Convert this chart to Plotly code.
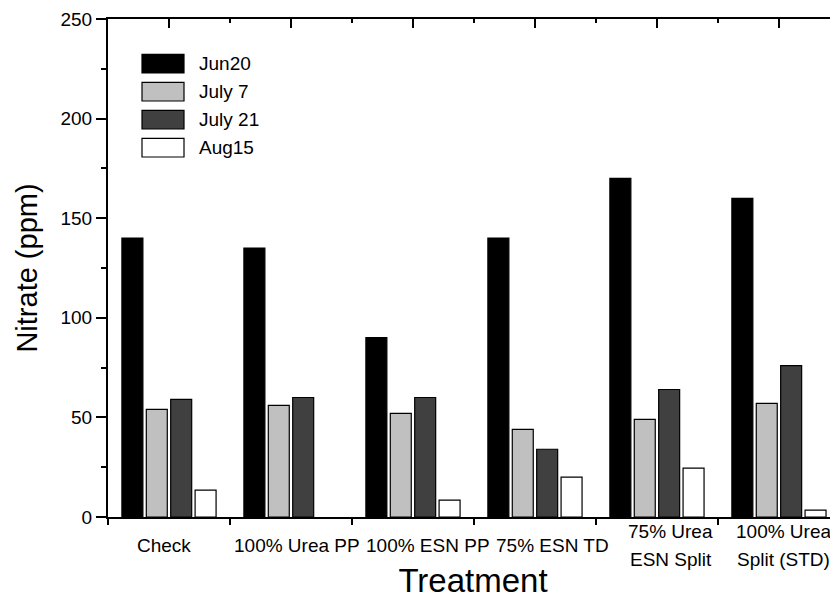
import plotly.graph_objects as go

categories = ["Check", "100% Urea PP", "100% ESN PP", "75% ESN TD",
              "75% Urea<br>ESN Split", "100% Urea<br>Split (STD)"]
series_names = ["Jun20", "July 7", "July 21", "Aug15"]
jun20 = [140, 135, 90, 140, 170, 160]
july7 = [54, 56, 52, 44, 49, 57]
july21 = [59, 60, 60, 34, 64, 76]
aug15 = [13.5, None, 8.5, 20, 24.5, 3.5]
series_values = [jun20, july7, july21, aug15]
y_ticks = [0, 50, 100, 150, 200, 250]

colors = ["#000000", "#c0c0c0", "#404040", "#ffffff"]
label_shift = [-5, 6, 15, 18, 14, 5]

FONT = "Liberation Sans, Arial, sans-serif"

fig = go.Figure()
for name, vals, col in zip(series_names, series_values, colors):
    fig.add_trace(go.Bar(
        x=categories, y=vals, name=name,
        marker=dict(color=col, line=dict(color="#000000", width=1.2)),
        showlegend=False,
    ))

# helper trace so the mirrored top/right axes are drawn
fig.add_trace(go.Scatter(x=[None], y=[None], xaxis="x2", yaxis="y2",
                         showlegend=False, hoverinfo="skip"))

x_range = [-0.5, 5.484]

# page has an 8px body margin: figure is offset by 8px
OFF = 8
L, T = 108, 19          # plot-area corner in page pixels
W, H = 730, 498
FIG_W, FIG_H = 838 - OFF, 599 - OFF


def px(x):
    return (x - L) / W


def py(y):
    return (T + H - y) / H


shapes = []
annotations = []
for i, (name, col) in enumerate(zip(series_names, colors)):
    top = 54.3 + i * 28
    shapes.append(dict(type="rect", xref="paper", yref="paper",
                       x0=px(142), x1=px(184), y0=py(top + 18.7), y1=py(top),
                       fillcolor=col, line=dict(color="#000000", width=1.2)))
    annotations.append(dict(text=name, xref="paper", yref="paper",
                            x=px(197), y=py(top + 9.5), xanchor="left",
                            yanchor="middle", showarrow=False,
                            font=dict(family=FONT, size=19, color="#000")))

for i, cat in enumerate(categories):
    lines = cat.split("<br>")
    n = len(lines)
    for j, line in enumerate(lines):
        yc = 545 + (j - (n - 1) / 2) * 28
        annotations.append(dict(text=line, xref="x", yref="paper", x=i,
                                y=py(yc), xanchor="center", yanchor="middle",
                                xshift=label_shift[i], showarrow=False,
                                font=dict(family=FONT, size=19, color="#000")))

fig.update_layout(
    width=FIG_W, height=FIG_H,
    margin=dict(l=L - OFF, r=0, t=T - OFF, b=FIG_H - (T - OFF) - H),
    paper_bgcolor="white", plot_bgcolor="white",
    font=dict(family=FONT, size=19, color="#000"),
    barmode="group", bargap=0.2, bargroupgap=0.14,
    shapes=shapes, annotations=annotations,
    xaxis=dict(type="category", range=x_range, tickson="boundaries",
               ticks="outside", ticklen=6, tickwidth=2, tickcolor="#000",
               showticklabels=False, showline=True, linewidth=2,
               linecolor="#000", showgrid=False, zeroline=False,
               title=dict(text="Treatment", font=dict(size=33), standoff=52)),
    yaxis=dict(range=[0, 250], tickvals=y_ticks, ticks="outside", ticklen=10,
               tickwidth=2, tickcolor="#000",
               minor=dict(ticks="outside", ticklen=5, tickwidth=2,
                          tickcolor="#000", dtick=25, tick0=0),
               showline=True, linewidth=2, linecolor="#000",
               showgrid=False, zeroline=False,
               tickfont=dict(size=19),
               title=dict(text="Nitrate (ppm)", font=dict(size=29), standoff=14)),
    xaxis2=dict(overlaying="x", side="top", range=x_range,
                tickvals=list(range(len(categories))), ticks="inside",
                ticklen=9, tickwidth=2, tickcolor="#000",
                minor=dict(ticks="inside", ticklen=4, tickwidth=2,
                           tickcolor="#000", dtick=1, tick0=0.5),
                showticklabels=False, showline=True, linewidth=2,
                linecolor="#000", showgrid=False, zeroline=False),
    yaxis2=dict(overlaying="y", side="right", range=[0, 250],
                tickvals=y_ticks, ticks="inside", ticklen=8, tickwidth=2,
                tickcolor="#000",
                minor=dict(ticks="inside", ticklen=3, tickwidth=2,
                           tickcolor="#000", dtick=25, tick0=0),
                showticklabels=False, showline=False, showgrid=False,
                zeroline=False),
)

fig.write_html("out.html")
